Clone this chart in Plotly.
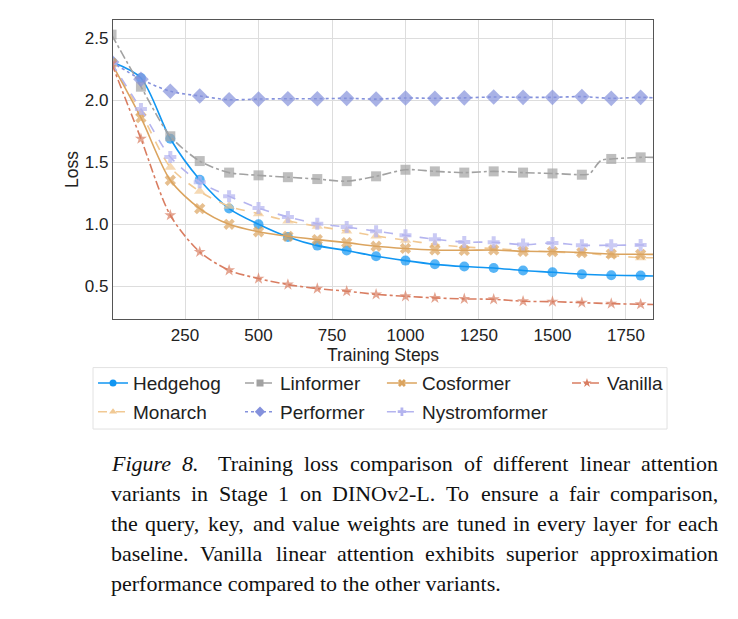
import plotly.graph_objects as go

steps = [0, 100, 200, 300, 400, 500, 600, 700, 800, 900, 1000, 1100, 1200, 1300, 1400, 1500, 1600, 1700, 1800, 1842]
lin_steps = [0, 100, 200, 300, 400, 500, 600, 700, 800, 900, 1000, 1100, 1200, 1300, 1400, 1500, 1600, 1625, 1665, 1700, 1800, 1842]

hedgehog = [2.31, 2.18, 1.69, 1.36, 1.127, 1.0, 0.898, 0.828, 0.788, 0.742, 0.707, 0.677, 0.659, 0.648, 0.627, 0.613, 0.597, 0.589, 0.586, 0.583]
linformer = [2.53, 2.11, 1.71, 1.51, 1.417, 1.395, 1.38, 1.365, 1.348, 1.387, 1.44, 1.427, 1.417, 1.427, 1.417, 1.41, 1.40, 1.405, 1.515, 1.527, 1.54, 1.54]
cosformer = [2.30, 1.86, 1.355, 1.127, 1.0, 0.94, 0.903, 0.876, 0.852, 0.823, 0.805, 0.793, 0.79, 0.793, 0.782, 0.78, 0.772, 0.76, 0.758, 0.757]
vanilla = [2.30, 1.69, 1.073, 0.777, 0.629, 0.562, 0.514, 0.481, 0.46, 0.435, 0.419, 0.406, 0.398, 0.395, 0.379, 0.376, 0.368, 0.36, 0.355, 0.353]
monarch = [2.30, 1.90, 1.46, 1.266, 1.145, 1.086, 1.027, 0.984, 0.946, 0.906, 0.871, 0.839, 0.817, 0.804, 0.79, 0.777, 0.769, 0.748, 0.731, 0.73]
performer = [2.31, 2.17, 2.073, 2.035, 2.005, 2.01, 2.013, 2.013, 2.016, 2.01, 2.019, 2.016, 2.02, 2.027, 2.024, 2.024, 2.03, 2.016, 2.024, 2.02]
nystromformer = [2.30, 1.93, 1.543, 1.34, 1.226, 1.131, 1.059, 1.005, 0.978, 0.944, 0.911, 0.879, 0.857, 0.855, 0.836, 0.849, 0.831, 0.831, 0.833, 0.832]

x_ticks = [250, 500, 750, 1000, 1250, 1500, 1750]
y_ticks = [0.5, 1.0, 1.5, 2.0, 2.5]

caption_label = "Figure 8."
caption_lines = [
    "Training loss comparison of different linear attention",
    "variants in Stage 1 on DINOv2-L. To ensure a fair comparison,",
    "the query, key, and value weights are tuned in every layer for each",
    "baseline. Vanilla linear attention exhibits superior approximation",
    "performance compared to the other variants.",
]

series = [
    # name, x, data, color, dash, symbol, marker size, legend
    ("Hedgehog", steps, hedgehog, "#1196f2", "solid", "circle", 10, "legend"),
    ("Monarch", steps, monarch, "#f1c994", "dash", "triangle-up", 10, "legend"),
    ("Linformer", lin_steps, linformer, "#a2a2a2", "dashdot", "square", 10, "legend2"),
    ("Performer", steps, performer, "#8491dc", "dot", "diamond", 12, "legend2"),
    ("Cosformer", steps, cosformer, "#dba45f", "solid", "x", 10, "legend3"),
    ("Nystromformer", steps, nystromformer, "#b4b4ef", "dash", "cross", 10, "legend3"),
    ("Vanilla", steps, vanilla, "#d97d61", "dashdot", "star", 9, "legend4"),
]

fig = go.Figure()
for name, xs, data, color, dash, symbol, msize, leg in series:
    sizes = [msize if (x % 100 == 0) else 0 for x in xs]
    fig.add_trace(go.Scatter(
        x=xs, y=data, name=name, mode="lines+markers", showlegend=False,
        line=dict(color=color, width=1.6, dash=dash, shape="spline", smoothing=0.8),
        marker=dict(symbol=symbol, size=sizes, color=color, line=dict(width=0)),
    ))
# legend entries
for name, xs, data, color, dash, symbol, msize, leg in series:
    fig.add_trace(go.Scatter(
        x=[None], y=[None], name=name, mode="lines+markers", showlegend=True,
        line=dict(color=color, width=1.6, dash=dash),
        marker=dict(symbol=symbol, size=8 if symbol == "diamond" else 7, color=color, line=dict(width=0)),
        legend=leg, legendgroup=name,
    ))

SANS = "Liberation Sans, Arial, sans-serif"
TICK_FONT = dict(family=SANS, size=17, color="#222222")
TITLE_FONT = dict(family=SANS, size=17.5, color="#222222")

fig.update_layout(
    width=738, height=619,
    margin=dict(l=113, r=85, t=20, b=300),
    paper_bgcolor="white", plot_bgcolor="white",
    font=TICK_FONT,
    showlegend=True,
    xaxis=dict(
        range=[5, 1842], tickvals=x_ticks, ticks="", showgrid=True,
        gridcolor="#dddddd", gridwidth=1, showline=True, linecolor="#555555",
        linewidth=1.2, mirror=True, zeroline=False, tickfont=TICK_FONT,
        title=dict(text="Training Steps", font=TITLE_FONT, standoff=1),
    ),
    yaxis=dict(
        range=[0.236, 2.648], tickvals=y_ticks, tickformat=".1f", ticks="",
        showgrid=True, gridcolor="#dddddd", gridwidth=1, showline=True,
        linecolor="#555555", linewidth=1.2, mirror=True, zeroline=False,
        tickfont=TICK_FONT, title=dict(text="Loss", font=TITLE_FONT, standoff=1),
    ),
)

leg_common = dict(orientation="v", xanchor="left", yanchor="top", bgcolor="rgba(0,0,0,0)",
                  borderwidth=0, font=dict(family=SANS, size=19, color="#222222"),
                  tracegroupgap=1, itemclick=False, itemdoubleclick=False)
legend_y = -0.151
fig.update_layout(
    legend=dict(x=-0.037, y=legend_y, **leg_common),
    legend2=dict(x=0.2352, y=legend_y, **leg_common),
    legend3=dict(x=0.498, y=legend_y, **leg_common),
    legend4=dict(x=0.8407, y=legend_y, **leg_common),
)

# legend frame
fig.add_shape(type="rect", xref="paper", yref="paper",
              x0=-0.037, x1=1.026, y0=-0.368, y1=-0.1625,
              line=dict(color="#e2e2e2", width=1), fillcolor="rgba(0,0,0,0)", layer="below")

# ---- caption (justified, Times metrics) ----
TIMES = {' ': 250, ',': 250, '-': 333, '.': 250, '0': 500, '1': 500, '2': 500, '3': 500,
         '4': 500, '5': 500, '6': 500, '7': 500, '8': 500, '9': 500,
         'A': 722, 'B': 667, 'C': 667, 'D': 722, 'E': 611, 'F': 556, 'G': 722, 'H': 722,
         'I': 333, 'J': 389, 'K': 722, 'L': 611, 'M': 889, 'N': 722, 'O': 722, 'P': 556,
         'Q': 722, 'R': 667, 'S': 556, 'T': 611, 'U': 722, 'V': 722, 'W': 944, 'X': 722,
         'Y': 722, 'Z': 611, 'a': 444, 'b': 500, 'c': 444, 'd': 500, 'e': 444, 'f': 333,
         'g': 500, 'h': 500, 'i': 278, 'j': 278, 'k': 500, 'l': 278, 'm': 778, 'n': 500,
         'o': 500, 'p': 500, 'q': 500, 'r': 333, 's': 389, 't': 278, 'u': 500, 'v': 500,
         'w': 722, 'x': 500, 'y': 500, 'z': 444}
TIMES_I = dict(TIMES)
TIMES_I.update({'F': 611, 'r': 389})

CAP_SIZE = 22
CAP_FONT = dict(family="Liberation Serif, Times New Roman, serif", size=CAP_SIZE, color="#111111")
CAP_LEFT, CAP_RIGHT = 113, 720
PAD = 3  # annotation inner offset
PLOT_L, PLOT_W, PLOT_B, PLOT_H = 113, 540, 319, 299


def wpx(s, table):
    return sum(table.get(c, 500) for c in s) * CAP_SIZE / 1000.0


def put(text, xpx, ypx):
    fig.add_annotation(
        x=(xpx - PAD - PLOT_L) / PLOT_W, y=(PLOT_B - ypx) / PLOT_H, xref="paper", yref="paper",
        xanchor="left", yanchor="middle", showarrow=False, text=text, borderpad=0,
        font=CAP_FONT,
    )


cap_y0 = 463
for i, line in enumerate(caption_lines):
    ypx = cap_y0 + i * 30
    tokens = [(w, False) for w in line.split(" ")]
    if i == 0:
        tokens = [("Figure", True), ("8.", True)] + tokens
    if i == len(caption_lines) - 1:
        put(line, CAP_LEFT, ypx)
        continue
    widths = [wpx(t, TIMES_I if it else TIMES) for t, it in tokens]
    extra = 8 if i == 0 else 0  # wider gap after the figure label
    gap = (CAP_RIGHT - CAP_LEFT - sum(widths) - extra) / (len(tokens) - 1)
    x = CAP_LEFT
    for k, ((t, it), w) in enumerate(zip(tokens, widths)):
        put(f"<i>{t}</i>" if it else t, x, ypx)
        x += w + gap + (extra if (i == 0 and k == 1) else 0)

fig.write_html("out.html")
